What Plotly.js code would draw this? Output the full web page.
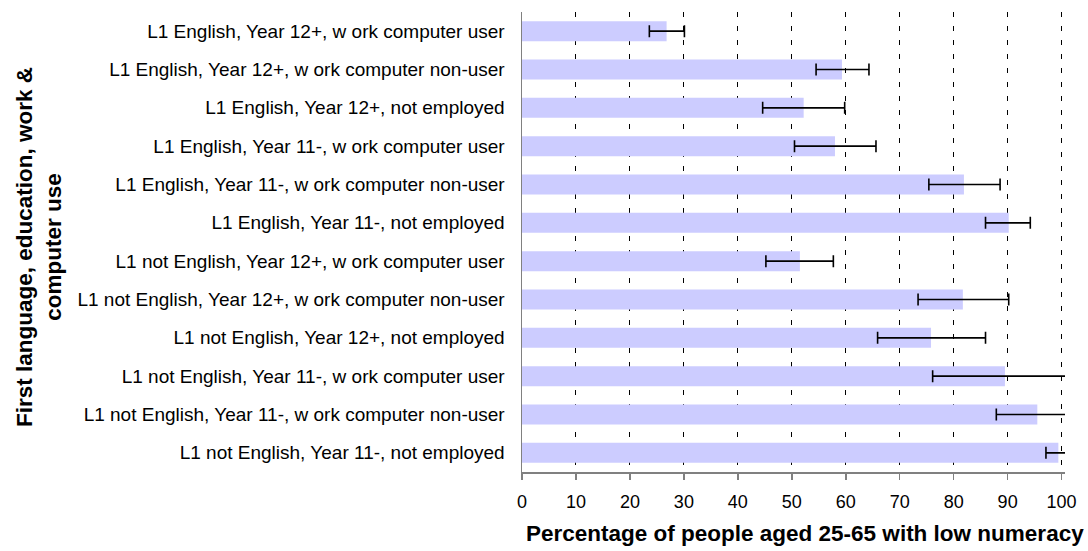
<!DOCTYPE html>
<html>
<head>
<meta charset="utf-8">
<script src="https://cdn.plot.ly/plotly-3.0.1.min.js"></script>
<style>html,body{margin:0;padding:0;background:#fff;}#chart{width:1088px;height:551px;}</style>
</head>
<body>
<div id="chart"></div>
<script>
var categories = [
  "L1 English, Year 12+, w ork computer user",
  "L1 English, Year 12+, w ork computer non-user",
  "L1 English, Year 12+, not employed",
  "L1 English, Year 11-, w ork computer user",
  "L1 English, Year 11-, w ork computer non-user",
  "L1 English, Year 11-, not employed",
  "L1 not English, Year 12+, w ork computer user",
  "L1 not English, Year 12+, w ork computer non-user",
  "L1 not English, Year 12+, not employed",
  "L1 not English, Year 11-, w ork computer user",
  "L1 not English, Year 11-, w ork computer non-user",
  "L1 not English, Year 11-, not employed"
];
var lowNumeracyPct = [26.8, 59.3, 52.2, 58.0, 81.9, 90.2, 51.5, 81.7, 75.8, 89.5, 95.5, 99.4];
var ciLower = [23.6, 54.5, 44.6, 50.5, 75.4, 85.9, 45.2, 73.4, 65.9, 76.1, 87.9, 97.1];
var ciUpper = [30.1, 64.3, 59.8, 65.6, 88.6, 94.2, 57.7, 90.2, 85.9, 102.9, 103.1, 101.7];
var xTickVals = [0, 10, 20, 30, 40, 50, 60, 70, 80, 90, 100];
var xTitle = "Percentage of people aged 25-65 with low numeracy";
var yTitle = "First language, education, work &<br>computer use";

var errPlus = lowNumeracyPct.map(function (v, i) { return ciUpper[i] - v; });
var errMinus = lowNumeracyPct.map(function (v, i) { return v - ciLower[i]; });

var FONT = "Liberation Sans, Arial, sans-serif";

var trace = {
  type: "bar",
  orientation: "h",
  x: lowNumeracyPct,
  y: categories,
  width: 0.52,
  marker: { color: "#CCCCFF", line: { width: 0 } },
  error_x: {
    type: "data",
    symmetric: false,
    array: errPlus,
    arrayminus: errMinus,
    color: "#000000",
    thickness: 1.6,
    width: 6
  },
  cliponaxis: true,
  hoverinfo: "x+y"
};

var layout = {
  width: 1088,
  height: 551,
  margin: { l: 522, r: 23, t: 12, b: 79, pad: 0 },
  paper_bgcolor: "#ffffff",
  plot_bgcolor: "#ffffff",
  showlegend: false,
  font: { family: FONT, color: "#000000", size: 18 },
  xaxis: {
    range: [0, 100.63],
    tickvals: xTickVals,
    ticktext: xTickVals.map(String),
    showgrid: true,
    gridcolor: "#000000",
    gridwidth: 1,
    griddash: "5px,9px",
    zeroline: false,
    showline: true,
    linecolor: "#808080",
    linewidth: 1.5,
    ticks: "outside",
    ticklen: 6,
    tickcolor: "#808080",
    tickwidth: 1.5,
    ticklabelstandoff: 7,
    tickfont: { family: FONT, size: 18, color: "#000000" },
    fixedrange: true
  },
  yaxis: {
    type: "category",
    autorange: "reversed",
    showgrid: false,
    zeroline: false,
    showline: true,
    linecolor: "#808080",
    linewidth: 1.5,
    ticks: "",
    ticklabelstandoff: 12,
    tickfont: { family: FONT, size: 19, color: "#000000" },
    fixedrange: true
  },
  annotations: [{
    text: yTitle,
    xref: "paper", yref: "paper",
    x: 0, y: 0.5,
    xanchor: "center", yanchor: "middle",
    xshift: -483,
    yshift: -5,
    textangle: -90,
    showarrow: false,
    font: { family: FONT, size: 22.5, color: "#000000", weight: "bold" }
  }, {
    text: xTitle,
    xref: "paper", yref: "paper",
    x: 0.5, y: 0,
    xanchor: "center", yanchor: "middle",
    xshift: 11,
    yshift: -61,
    showarrow: false,
    font: { family: FONT, size: 22.5, color: "#000000", weight: "bold" }
  }],
  bargap: 0.48
};

Plotly.newPlot("chart", [trace], layout, { staticPlot: true, displayModeBar: false });
</script>
</body>
</html>
